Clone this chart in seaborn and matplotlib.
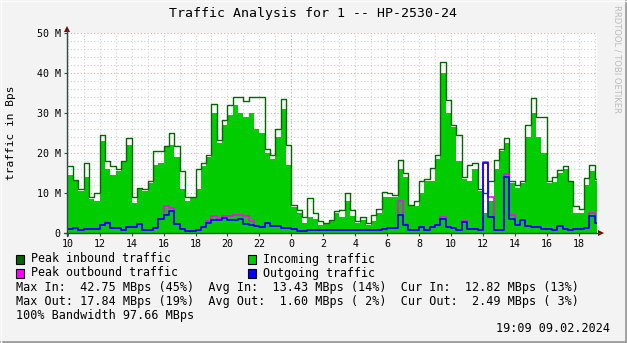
import numpy as np
import pandas as pd
import matplotlib
matplotlib.use("Agg")
import matplotlib.pyplot as plt
import seaborn as sns
from matplotlib.patches import Rectangle, Polygon
from matplotlib.lines import Line2D

# ---------------- data (MBps, 20-minute steps starting 10:00) ----------------
step_hours = 1 / 3
end_hours = 33.15  # 19:09 next day

incoming = [14.5, 13, 10.5, 14, 8.5, 8, 23, 16, 14.5, 15.4,
            18, 22, 7.5, 11, 10.4, 12.5, 17, 17.5, 21.5, 22,
            19, 11, 8, 8.7, 11, 16.8, 19, 30, 22.5, 27,
            29.5, 32, 30, 29, 30, 26, 25, 20, 18.5, 24,
            31, 17, 6.5, 5, 2.5, 4, 3.5, 2, 2.3, 3,
            5, 4, 8, 4.2, 2.5, 3.3, 2, 3, 5, 9,
            9, 9, 16, 14, 6.7, 6.7, 10, 13, 13, 18.5,
            40, 30, 26.5, 18, 13.5, 13, 16, 10.5, 5, 8,
            16, 20.5, 22.5, 12.5, 11.25, 12.5, 24, 30, 24, 20,
            12.5, 12.75, 15, 16, 12.7, 5, 5, 12, 15.5, 13]

peak_in = [16.7, 13.3, 11, 17.5, 9, 10, 24.6, 18, 16.7, 16,
           18, 23.75, 9, 11.25, 11, 13, 20.4, 20.4, 21.7, 25,
           21.7, 15.4, 9, 9, 16, 17.5, 19.5, 32.2, 23.3, 28.3,
           32, 34, 34, 33, 34, 34, 34, 21, 19.6, 26,
           33.5, 22, 7, 5.8, 4, 8.8, 5, 3, 2.5, 3.3,
           5.5, 5.8, 10, 5.8, 3, 4, 2.5, 4.6, 6, 10.2,
           10, 9.5, 18.3, 15, 7, 8, 13, 13.5, 16.25, 19.6,
           42.75, 33.3, 27, 24.6, 14, 17, 17.5, 11, 10, 13,
           18.3, 21, 23.75, 13, 12, 13, 27, 33.75, 29, 29,
           13, 14, 15.8, 16.7, 13, 6.7, 6, 13.75, 17, 13.5]

outgoing = [1.0, 1.2, 0.8, 1.0, 0.9, 1.0, 2.0, 2.5, 1.2, 1.2,
            0.8, 1.5, 1.5, 2.2, 0.8, 0.8, 1.2, 3.4, 4.5, 5.5,
            2.2, 1.0, 0.4, 0.4, 0.7, 1.5, 2.5, 3.2, 3.3, 3.8,
            3.2, 3.3, 3.5, 2.2, 2.0, 1.8, 1.5, 2.5, 1.7, 1.7,
            1.2, 1.2, 1.0, 0.5, 0.4, 0.8, 0.8, 0.8, 0.8, 0.8,
            0.8, 0.8, 0.8, 0.8, 0.8, 0.8, 0.8, 0.8, 0.8, 1.0,
            1.2, 1.2, 4.5, 2.0, 0.8, 0.8, 1.5, 0.7, 1.5, 2.0,
            3.5, 1.5, 1.2, 0.8, 2.8, 1.0, 1.0, 0.7, 17.5, 4.0,
            0.8, 0.8, 14.0, 3.5, 2.0, 3.3, 1.8, 1.5, 1.5, 1.0,
            1.0, 0.8, 1.7, 1.0, 0.7, 1.0, 1.0, 1.2, 4.2, 2.5]

peak_out = [1.0, 1.2, 0.8, 1.0, 0.9, 1.0, 2.0, 2.8, 1.2, 1.2,
            0.8, 1.5, 1.5, 2.2, 0.8, 0.8, 1.2, 3.6, 6.7, 6.3,
            2.2, 1.0, 0.4, 0.4, 0.7, 1.5, 3.0, 4.2, 3.5, 4.2,
            4.2, 4.5, 4.6, 4.2, 3.0, 1.8, 1.5, 2.5, 1.7, 1.7,
            1.2, 1.2, 1.0, 0.5, 0.4, 0.8, 0.8, 0.8, 0.8, 0.8,
            0.8, 0.8, 0.8, 0.8, 0.8, 0.8, 0.8, 0.8, 0.8, 1.0,
            1.2, 1.2, 7.9, 2.2, 0.8, 0.8, 1.5, 0.7, 1.5, 2.0,
            4.0, 1.5, 1.2, 0.8, 3.0, 1.0, 1.0, 0.7, 17.84, 9.0,
            0.8, 0.8, 14.8, 4.6, 2.0, 3.3, 1.8, 1.5, 1.5, 1.0,
            1.0, 0.8, 1.7, 1.0, 0.7, 1.0, 1.0, 1.2, 5.0, 2.5]

x_tick_labels = ["10", "12", "14", "16", "18", "20", "22", "0", "2",
                 "4", "6", "8", "10", "12", "14", "16", "18"]
y_ticks = [0, 10, 20, 30, 40, 50]
y_tick_labels = ["0", "10 M", "20 M", "30 M", "40 M", "50 M"]
midnight_hours = 14

title = "Traffic Analysis for 1 -- HP-2530-24"
y_label = "traffic in Bps"
legend_labels = ["Peak inbound traffic", "Incoming traffic",
                 "Peak outbound traffic", "Outgoing traffic"]
legend_colors = ["#006600", "#00CC00", "#FF00FF", "#0000FF"]
stats_lines = [
    "Max In:  42.75 MBps (45%)  Avg In:  13.43 MBps (14%)  Cur In:  12.82 MBps (13%)",
    "Max Out: 17.84 MBps (19%)  Avg Out:  1.60 MBps ( 2%)  Cur Out:  2.49 MBps ( 3%)",
    "100% Bandwidth 97.66 MBps",
]
timestamp = "19:09 09.02.2024"
watermark = "RRDTOOL / TOBI OETIKER"

# ---------------- figure ----------------
sns.set_theme(style="white")
plt.rcParams["font.family"] = ["DejaVu Sans Mono", "DejaVu Sans"]

W, H = 627, 343
fig = plt.figure(figsize=(W / 100, H / 100), dpi=100, facecolor="#F3F3F3")

def fx(x):
    return x / W

def fy(y):
    return 1 - y / H

L, R, T, B = 67, 597, 33, 233
ax = fig.add_axes([fx(L), fy(B), (R - L) / W, (B - T) / H])
ax.set_facecolor("white")

n = len(incoming)
t = np.append(np.arange(n) * step_hours, end_hours)
ext = lambda v: np.append(np.asarray(v, float), v[-1])
df = pd.DataFrame({"t": t, "incoming": ext(incoming), "peak_in": ext(peak_in),
                   "outgoing": ext(outgoing), "peak_out": ext(peak_out)})

ax.fill_between(df["t"], df["incoming"], step="post", color="#00CC00",
                lw=0, zorder=2)
sns.lineplot(data=df, x="t", y="peak_in", drawstyle="steps-post",
             color="#006600", lw=1.0, ax=ax, zorder=3)
sns.lineplot(data=df, x="t", y="peak_out", drawstyle="steps-post",
             color="#FF00FF", lw=1.2, ax=ax, zorder=4)
sns.lineplot(data=df, x="t", y="outgoing", drawstyle="steps-post",
             color="#0000FF", lw=1.2, ax=ax, zorder=5)

ax.set_xlim(-0.05, end_hours)
ax.set_ylim(0, 50)
ax.set_xlabel("")
ax.set_ylabel("")

# ticks
ax.set_xticks(np.arange(len(x_tick_labels)) * 2)
ax.set_xticklabels(x_tick_labels)
ax.set_xticks(np.arange(0, 34, 1), minor=True)
ax.xaxis.remove_overlapping_locs = False
ax.set_yticks(y_ticks)
ax.set_yticklabels(y_tick_labels)
ax.set_yticks(np.arange(0, 51, 2), minor=True)
ax.tick_params(axis="both", which="major", labelsize=7.2, length=2,
               color="#2C4D43", width=0.8, pad=2.5, labelcolor="#000000",
               bottom=True, left=True)
ax.tick_params(axis="both", which="minor", length=0)

# grid
ax.set_axisbelow(True)
ax.grid(False)
dot = (0, (1, 2))
ax.xaxis.grid(True, which="minor", color="#CFCFCF", lw=0.8, linestyle=dot)
ax.yaxis.grid(True, which="minor", color="#CFCFCF", lw=0.8, linestyle=dot)
ax.yaxis.grid(True, which="major", color="#E2A8A8", lw=0.8, linestyle=dot)
ax.axvline(midnight_hours, color="#E2A8A8", lw=0.8, linestyle=dot, zorder=1)

for s in ax.spines.values():
    s.set_visible(False)

# axis lines with arrows
axis_col = "#2C4D43"
arrow_col = "#7F0000"
fig.add_artist(Line2D([fx(L), fx(L)], [fy(B + 3), fy(T - 3)], color=axis_col, lw=1.0))
fig.add_artist(Line2D([fx(L - 3), fx(R + 3)], [fy(B), fy(B)], color=axis_col, lw=1.0))
fig.add_artist(Polygon([[fx(L - 3), fy(T - 1)], [fx(L + 3), fy(T - 1)], [fx(L), fy(T - 7)]],
                       closed=True, color=arrow_col, lw=0))
fig.add_artist(Polygon([[fx(R + 1), fy(B - 3)], [fx(R + 1), fy(B + 3)], [fx(R + 7), fy(B)]],
                       closed=True, color=arrow_col, lw=0))

# title & labels
fig.text(fx(313), fy(14), title, ha="center", va="center", fontsize=9.5, color="#000000")
fig.text(fx(11), fy(133), y_label, ha="center", va="center", rotation=90,
         fontsize=8, color="#000000")
fig.text(fx(617), fy(5), watermark, ha="center", va="top", rotation=-90,
         fontsize=6, color="#BBBBBB", family=["DejaVu Sans"])

# legend
rows_y = [259, 259, 273, 273]
cols_x = [16, 248, 16, 248]
for lab, col, xx, yy in zip(legend_labels, legend_colors, cols_x, rows_y):
    fig.add_artist(Rectangle((fx(xx), fy(yy + 4.5)), 8 / W, 9 / H, facecolor=col,
                             edgecolor="#000000", lw=0.8))
    fig.text(fx(xx + 15), fy(yy), lab, ha="left", va="center", fontsize=8.4, color="#000000")

for line, yy in zip(stats_lines, [287, 301.5, 315.5]):
    fig.text(fx(16), fy(yy), line, ha="left", va="center", fontsize=8.5, color="#000000")

fig.text(fx(610), fy(329), timestamp, ha="right", va="center", fontsize=8.5, color="#000000")

# 3D frame
fig.add_artist(Line2D([0, 1], [fy(342), fy(342)], color="#9E9E9E", lw=2))
fig.add_artist(Line2D([fx(626), fx(626)], [0, 1], color="#9E9E9E", lw=2))
fig.add_artist(Line2D([0, 1], [fy(0.5), fy(0.5)], color="#FCFCFC", lw=1))
fig.add_artist(Line2D([fx(0.5), fx(0.5)], [0, 1], color="#FCFCFC", lw=1))

fig.savefig("out.png", dpi=100, facecolor=fig.get_facecolor())
